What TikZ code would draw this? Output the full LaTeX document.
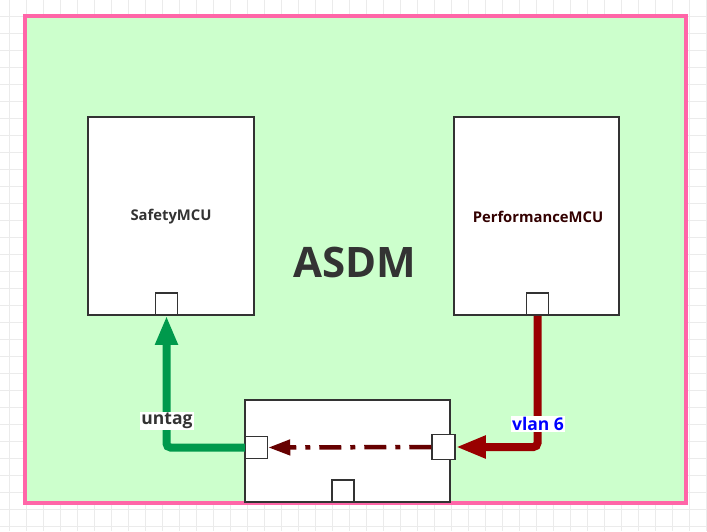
\documentclass[tikz,border=0pt]{standalone}
\usepackage{fontspec}
\setmainfont{Open Sans}
\usetikzlibrary{arrows.meta}
\definecolor{bgreen}{HTML}{CCFFCC}
\definecolor{pinkc}{HTML}{FF66A8}
\definecolor{gridc}{HTML}{EBEBEB}
\definecolor{boxc}{HTML}{333333}
\definecolor{greenc}{HTML}{00994C}
\definecolor{redc}{HTML}{990000}
\definecolor{dredc}{HTML}{660000}
\definecolor{perfc}{HTML}{330000}
\tikzset{
  mcu/.style={draw=boxc, line width=1.5pt, fill=white, inner sep=0pt},
  port/.style={draw=boxc, line width=1.5pt, fill=white, inner sep=0pt, minimum width=22pt, minimum height=22pt},
  lbl/.style={font=\bfseries\fontsize{14.8pt}{17pt}\selectfont, text=boxc},
  tag/.style={font=\bfseries\fontsize{17.5pt}{20pt}\selectfont, fill=white, inner sep=1pt},
  garrow/.style={draw=greenc, line width=8pt, rounded corners=4pt, -{Triangle[width=21pt,length=29pt]}},
  rarrow/.style={draw=redc, line width=8pt, rounded corners=4pt, -{Triangle[width=21pt,length=30pt]}},
  darrow/.style={draw=dredc, line width=4.5pt, dash pattern=on 22pt off 9pt on 5pt off 9pt, -{Triangle[width=15pt,length=22pt]}},
}
\begin{document}
\begin{tikzpicture}[x=1pt,y=-1pt]
\useasboundingbox (0,0) rectangle (707,531);
\fill[white] (0,0) rectangle (707,531);
\begin{scope}
\clip (0,0) rectangle (707,531);
\foreach \i in {0,...,42} \draw[gridc, line width=1pt] (9+17*\i,0) -- (9+17*\i,531);
\foreach \i in {0,...,31} \draw[gridc, line width=1pt] (0,-1+17*\i) -- (707,-1+17*\i);
\end{scope}
\node[draw=pinkc, line width=4pt, fill=bgreen, minimum width=661pt, minimum height=487pt, inner sep=0pt] (asdmbox) at (355.5,259.5) {};
\node[font=\bfseries\fontsize{42pt}{48pt}\selectfont, text=boxc] (asdm) at (355,262) {ASDM};
\node[mcu, minimum width=166pt, minimum height=198pt] (safety) at (171,216) {};
\node[lbl] (safetyt) at (171,217) {SafetyMCU};
\node[mcu, minimum width=165pt, minimum height=198pt] (perf) at (536.5,216) {};
\node[lbl, text=perfc] (perft) at (538,217) {PerformanceMCU};
\node[mcu, minimum width=205pt, minimum height=102pt] (sw) at (347.5,451) {};
\node[port] (sp) at (166.5,304) {};
\node[port] (pp) at (537.5,304) {};
\node[port] (swl) at (256.5,447.5) {};
\node[port, minimum width=23pt, minimum height=25pt] (swr) at (443.5,447) {};
\node[port] (swb) at (343,491) {};
\draw[garrow] (swl.west) -| (sp.south);
\draw[rarrow] (pp.south) |- (swr.east);
\draw[darrow] (swr.west) -- (swl.east);
\node[tag, text=boxc] (untag) at (167,421) {untag};
\node[tag, text=blue] (vlan) at (538,424) {vlan 6};
\end{tikzpicture}
\end{document}
